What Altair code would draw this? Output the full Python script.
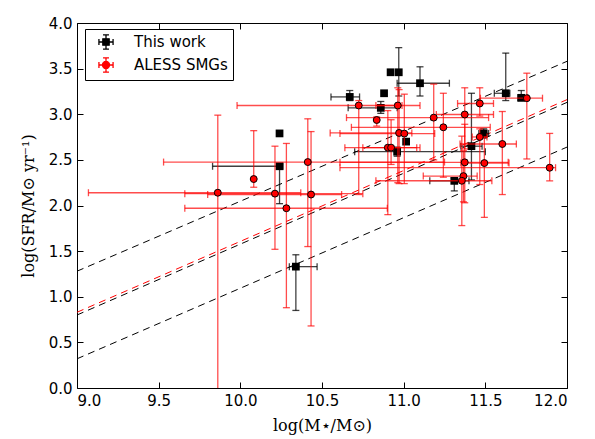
import altair as alt
import pandas as pd

# ---------------- data ----------------
# dashed reference relations: value at logM = 9 and logM = 12
line_x = [9.0, 12.0]
line_names = ["k1", "r", "k2", "k3"]
line_y0 = [1.28, 0.83, 0.80, 0.32]
line_y1 = [3.58, 3.16, 3.13, 2.64]
line_colors = ["black", "red", "black", "black"]

series_names = ["This work", "ALESS SMGs"]

# "This work" (black squares); None = no error bar
tw_x   = [10.24, 10.24, 10.34, 10.67, 10.88, 10.86, 10.92, 10.97, 11.10, 11.015, 10.96, 11.415, 11.31, 11.625, 11.72, 11.49]
tw_y   = [2.79, 2.43, 1.33, 3.19, 3.23, 3.07, 3.46, 3.46, 3.34, 2.70, 2.59, 2.65, 2.27, 3.23, 3.18, 2.79]
tw_xlo = [None, 9.83, 10.30, 10.555, None, 10.66, None, None, 10.96, None, 10.70, 11.35, 11.16, 11.555, 11.70, 11.46]
tw_xhi = [None, 10.26, 10.47, 10.73, None, 10.96, None, None, 11.28, None, 11.50, 11.48, 11.40, 11.65, 11.76, 11.52]
tw_ylo = [None, 2.02, 0.85, 3.15, None, 3.01, None, 3.20, 3.20, None, 2.54, 2.28, 2.16, 3.15, 3.15, 2.74]
tw_yhi = [None, 2.45, 1.46, 3.26, None, 3.14, None, 3.73, 3.52, None, 2.64, 3.23, 2.30, 3.67, 3.26, 2.84]

# ALESS SMGs (red circles)
al_x   = [9.862, 10.212, 10.433, 10.282, 10.082, 10.413, 10.725, 10.964, 10.835, 11.184, 11.374, 11.466, 11.754,
          11.243, 10.972, 11.004, 10.903, 10.923, 11.466, 11.604, 11.374, 11.494, 11.894, 11.366, 11.356]
al_y   = [2.14, 2.13, 2.12, 1.97, 2.29, 2.476, 3.096, 3.096, 2.937, 2.963, 2.997, 3.118, 3.176,
          2.857, 2.795, 2.788, 2.634, 2.634, 2.751, 2.674, 2.473, 2.465, 2.414, 2.322, 2.271]
al_xlo = [9.07, 9.66, 9.80, 9.66, None, 9.53, 9.98, 10.83, None, 10.65, 11.20, 11.33, 11.47,
          10.68, 10.55, 10.61, 10.64, 10.75, 11.42, 11.345, 10.61, 11.35, 10.61, 11.12, 10.83]
al_xhi = [10.37, 10.75, 10.62, 10.90, None, 11.25, 10.99, 11.10, None, 11.52, 11.55, 11.55, 11.85,
          11.53, 11.05, 11.19, 11.08, 11.10, 11.51, 11.69, 11.64, 11.645, 11.93, 11.45, 11.54]
al_ylo = [-0.3, 1.52, 0.68, 0.88, 2.20, 1.55, 2.12, 2.25, 2.87, 2.50, 2.62, 2.98, 2.51,
          2.31, 2.24, 2.24, 1.90, 2.45, 2.23, 2.12, 2.03, 1.87, 2.27, 2.04, 1.78]
al_yhi = [2.99, 2.65, 2.81, 2.68, 2.82, 2.95, 3.15, 3.29, 2.97, 3.33, 3.29, 3.29, 3.45,
          3.23, 3.27, 3.22, 3.04, 2.94, 2.84, 3.03, 2.89, 2.75, 2.79, 2.60, 2.76]

x_ticks = [9.0, 9.5, 10.0, 10.5, 11.0, 11.5, 12.0]
y_ticks = [0.0, 0.5, 1.0, 1.5, 2.0, 2.5, 3.0, 3.5, 4.0]

# ---------------- tables ----------------
lines_df = pd.DataFrame([
    {"name": n, "x": xv, "y": yv, "c": c}
    for n, a, b, c in zip(line_names, line_y0, line_y1, line_colors)
    for xv, yv in zip(line_x, [a, b])
])

def tbl(x, y, xlo, xhi, ylo, yhi):
    return pd.DataFrame({"x": x, "y": y, "xlo": xlo, "xhi": xhi, "ylo": ylo, "yhi": yhi})

tw = tbl(tw_x, tw_y, tw_xlo, tw_xhi, tw_ylo, tw_yhi)
al = tbl(al_x, al_y, al_xlo, al_xhi, al_ylo, al_yhi)

xs = alt.Scale(domain=[9, 12], nice=False, zero=False)
ys = alt.Scale(domain=[0, 4], nice=False, zero=False)

LBL = dict(labelFont="DejaVu Sans", labelFontSize=15, labelColor="black",
           tickColor="black", tickWidth=1, tickSize=6, offset=-6, domain=False, grid=False)

ax_bottom = alt.Axis(orient="bottom", values=x_ticks, format=".1f", labelPadding=5,
                     title="log(M⋆/M⊙)", titleFont="DejaVu Serif", titleFontSize=16,
                     titleFontWeight="normal", titleColor="black", titlePadding=9, **LBL)
ax_left = alt.Axis(orient="left", values=y_ticks, format=".1f", labelPadding=5,
                   title="log(SFR/M⊙ yr⁻¹)", titleFont="DejaVu Serif", titleFontSize=16,
                   titleFontWeight="normal", titleColor="black", titlePadding=12, **LBL)
ax_top = alt.Axis(orient="top", values=x_ticks, labels=False, title=None, **LBL)
ax_right = alt.Axis(orient="right", values=y_ticks, labels=False, title=None, **LBL)

lines = alt.Chart(lines_df).mark_line(strokeDash=[7, 5], strokeWidth=1, clip=True).encode(
    x=alt.X("x:Q", scale=xs, axis=ax_bottom),
    y=alt.Y("y:Q", scale=ys, axis=ax_left),
    detail="name:N",
    color=alt.Color("c:N", scale=None),
)

def errbars(df, color, opacity):
    hb = alt.Chart(df).mark_rule(color=color, opacity=opacity, strokeWidth=1.3, clip=True).encode(
        x=alt.X("xlo:Q", scale=xs, axis=None), x2="xhi:Q", y=alt.Y("y:Q", scale=ys, axis=None))
    vb = alt.Chart(df).mark_rule(color=color, opacity=opacity, strokeWidth=1.3, clip=True).encode(
        x=alt.X("x:Q", scale=xs, axis=None), y=alt.Y("ylo:Q", scale=ys, axis=None), y2="yhi:Q")
    caps = []
    for f in ["xlo", "xhi"]:
        caps.append(alt.Chart(df).mark_tick(orient="vertical", color=color, opacity=opacity,
                                            size=7, thickness=1.3, clip=True).encode(
            x=alt.X(f"{f}:Q", scale=xs, axis=None), y=alt.Y("y:Q", scale=ys, axis=None)))
    for f in ["ylo", "yhi"]:
        caps.append(alt.Chart(df).mark_tick(orient="horizontal", color=color, opacity=opacity,
                                            size=7, thickness=1.3, clip=True).encode(
            x=alt.X("x:Q", scale=xs, axis=None), y=alt.Y(f"{f}:Q", scale=ys, axis=None)))
    return [hb, vb] + caps

tw_bars = errbars(tw, "black", 0.75)
# top/right axes carried by one layer
tw_bars[0] = alt.Chart(tw).mark_rule(color="black", opacity=0.75, strokeWidth=1.3, clip=True).encode(
    x=alt.X("xlo:Q", scale=xs, axis=ax_top), x2="xhi:Q", y=alt.Y("y:Q", scale=ys, axis=ax_right))

tw_pts = alt.Chart(tw).mark_point(shape="square", filled=True, color="black", opacity=1, size=60).encode(
    x=alt.X("x:Q", scale=xs, axis=None), y=alt.Y("y:Q", scale=ys, axis=None))

al_bars = errbars(al, "red", 0.7)
al_pts = alt.Chart(al).mark_point(shape="circle", filled=True, fill="red", stroke="black",
                                  strokeWidth=1, opacity=1, size=48).encode(
    x=alt.X("x:Q", scale=xs, axis=None), y=alt.Y("y:Q", scale=ys, axis=None))

# legend layer (no drawn points: positions are null)
path_lines = "M-1,-0.42L-1,0.42M1,-0.42L1,0.42M-0.42,-1L0.42,-1M-0.42,1L0.42,1M-1,0L1,0M0,-1L0,1"
sym_tw = path_lines + "M-0.45,-0.45L0.45,-0.45L0.45,0.45L-0.45,0.45Z"
sym_al = path_lines + "M-0.5,0A0.5,0.5,0,1,0,0.5,0A0.5,0.5,0,1,0,-0.5,0Z"

leg = alt.Legend(orient="none", legendX=8, legendY=6, title=None, strokeColor="black",
                 fillColor="white", padding=5, cornerRadius=0, symbolSize=200,
                 symbolStrokeWidth=1.3, labelFont="DejaVu Sans", labelFontSize=15,
                 labelColor="black", rowPadding=3, symbolOffset=8, labelOffset=20)
cscale = alt.Scale(domain=series_names, range=["black", "red"])
leg_df = pd.DataFrame({"series": series_names, "lx": [None, None], "ly": [None, None]})
legend_layer = alt.Chart(leg_df).mark_point(opacity=1, strokeWidth=1.3).encode(
    x=alt.X("lx:Q", scale=xs, axis=None),
    y=alt.Y("ly:Q", scale=ys, axis=None),
    fill=alt.Fill("series:N", scale=cscale, legend=leg, sort=series_names),
    stroke=alt.Stroke("series:N", scale=cscale, legend=leg, sort=series_names),
    shape=alt.Shape("series:N", scale=alt.Scale(domain=series_names, range=[sym_tw, sym_al]),
                    legend=leg, sort=series_names),
)

chart = alt.layer(
    lines, *tw_bars, tw_pts, *al_bars, al_pts, legend_layer
).resolve_axis(x="independent", y="independent").properties(
    width=490, height=365,
    padding={"left": 12, "top": 8, "right": 5, "bottom": 5},
).configure_view(stroke="black", strokeWidth=1)

chart.save("out.html", embed_options={"renderer": "svg", "actions": False})
